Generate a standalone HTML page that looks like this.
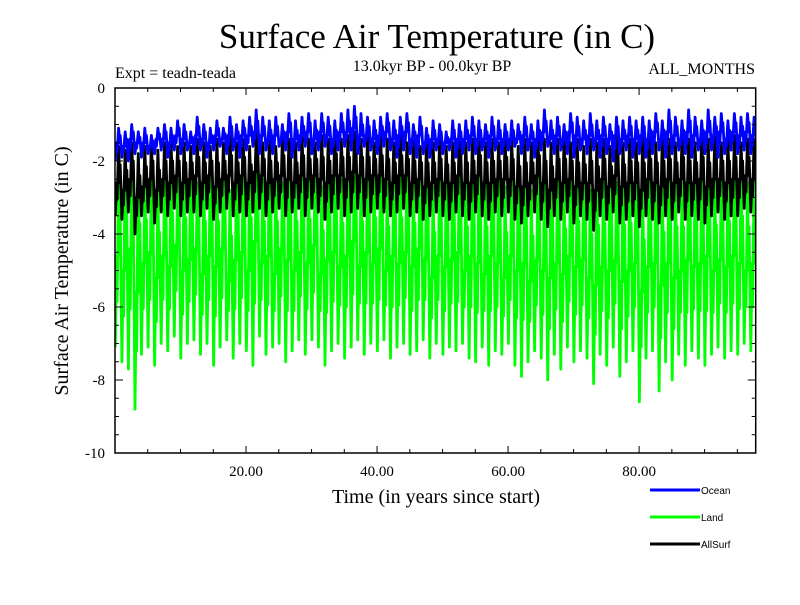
<!DOCTYPE html>
<html><head><meta charset="utf-8"><style>
body{margin:0;background:#fff;width:800px;height:600px;overflow:hidden}
svg text{font-family:"Liberation Serif",serif;fill:#000}
</style></head><body>
<svg id="chart" width="800" height="600" xmlns="http://www.w3.org/2000/svg">
<text x="437" y="48" font-size="35" text-anchor="middle">Surface Air Temperature (in C)</text>
<text x="115" y="78" font-size="16">Expt = teadn-teada</text>
<text x="432" y="71" font-size="16" text-anchor="middle">13.0kyr BP - 00.0kyr BP</text>
<text x="755" y="74" font-size="16" text-anchor="end">ALL_MONTHS</text>
<text transform="translate(68,271) rotate(-90)" font-size="20" text-anchor="middle">Surface Air Temperature (in C)</text>
<text x="436" y="503" font-size="20" text-anchor="middle">Time (in years since start)</text>
<g id="marks"></g>
<g id="axes"></g>
<g>
<line x1="650" y1="490" x2="700" y2="490" stroke="#0000ff" stroke-width="3"/>
<text x="701" y="494" font-size="10" style="font-family:'Liberation Sans',sans-serif">Ocean</text>
<line x1="650" y1="517" x2="700" y2="517" stroke="#00ff00" stroke-width="3"/>
<text x="701" y="521" font-size="10" style="font-family:'Liberation Sans',sans-serif">Land</text>
<line x1="650" y1="544" x2="700" y2="544" stroke="#000" stroke-width="3"/>
<text x="701" y="548" font-size="10" style="font-family:'Liberation Sans',sans-serif">AllSurf</text>
</g>
</svg>
<script>
const xTicks=[20,40,60,80];
const xTickLabels=["20.00","40.00","60.00","80.00"];
const yTicks=[0,-2,-4,-6,-8,-10];
const yTickLabels=["0","-2","-4","-6","-8","-10"];
const landMax=[-2.2,-1.9,-2.5,-1.8,-2.4,-2.0,-2.7,-2.3,-1.9,-2.5,-2.1,-1.8,-2.6,-2.2,-1.7,-2.4,-2.0,-2.8,-1.9,-2.3,-2.1,-1.4,-2.5,-1.8,-2.2,-2.6,-1.7,-2.3,-2.0,-2.4,-1.8,-2.7,-2.1,-1.9,-2.5,-2.2,-1.6,-2.4,-2.0,-2.3,-1.8,-2.6,-2.1,-2.3,-1.9,-2.5,-1.8,-2.2,-2.7,-2.0,-2.4,-2.2,-1.9,-2.6,-2.1,-2.3,-2.5,-1.9,-2.2,-2.7,-2.0,-2.4,-2.1,-2.8,-2.2,-2.5,-1.9,-2.3,-2.6,-2.0,-2.4,-2.2,-2.8,-2.1,-2.5,-1.9,-2.6,-2.2,-2.4,-2.0,-2.7,-2.3,-2.1,-2.5,-1.9,-2.4,-2.6,-2.0,-2.3,-2.2,-1.8,-2.5,-2.1,-2.4,-1.9,-2.2,-2.6,-2.3];
const landMid=[-4.6,-5.0,-4.4,-5.6,-4.8,-4.5,-5.2,-4.6,-4.9,-4.3,-5.0,-4.7,-4.4,-5.1,-4.6,-4.9,-4.4,-5.3,-4.7,-4.5,-5.0,-4.2,-4.8,-4.6,-5.1,-4.4,-4.7,-5.0,-4.5,-4.8,-4.3,-5.1,-4.7,-4.5,-4.9,-4.6,-4.2,-4.9,-4.5,-4.8,-4.4,-5.0,-4.6,-4.8,-4.5,-4.9,-4.4,-4.7,-5.2,-4.6,-4.9,-4.7,-4.5,-5.0,-4.6,-4.8,-5.1,-4.6,-4.8,-5.2,-4.6,-5.0,-4.8,-5.3,-4.7,-5.0,-5.2,-4.8,-5.1,-4.6,-4.9,-4.7,-5.2,-5.4,-4.9,-5.0,-4.7,-5.3,-5.0,-4.8,-5.6,-4.9,-4.8,-5.4,-4.8,-5.2,-5.0,-4.7,-4.9,-4.8,-4.6,-5.0,-4.7,-4.9,-4.6,-4.8,-5.0,-4.8];
const landMin=[-7.1,-7.5,-7.7,-8.8,-7.3,-7.1,-7.6,-7.0,-7.2,-6.8,-7.4,-7.0,-6.9,-7.3,-7.0,-7.6,-7.1,-6.9,-7.4,-7.0,-7.2,-7.6,-6.8,-7.3,-7.1,-7.0,-7.5,-7.2,-6.9,-7.3,-6.9,-7.1,-7.6,-7.2,-7.0,-7.4,-7.1,-6.9,-7.3,-7.0,-7.2,-6.9,-7.4,-7.1,-7.0,-7.3,-7.2,-6.9,-7.4,-7.0,-7.3,-7.1,-7.2,-7.0,-7.4,-7.5,-7.1,-7.6,-7.2,-7.3,-7.0,-7.6,-7.9,-7.5,-7.2,-7.4,-8.0,-7.3,-7.7,-7.1,-7.5,-7.2,-7.4,-8.1,-7.3,-7.6,-7.1,-7.9,-7.5,-7.2,-8.6,-7.4,-7.2,-8.3,-7.5,-8.0,-7.3,-7.6,-7.2,-7.4,-7.6,-7.3,-7.1,-7.4,-7.2,-7.3,-7.0,-7.2];
const oceanMax=[-1.1,-1.2,-1.0,-1.2,-1.1,-1.3,-1.1,-1.0,-1.1,-0.9,-1.0,-1.2,-0.8,-1.0,-1.1,-0.9,-1.1,-0.8,-1.0,-0.9,-0.8,-0.6,-0.8,-0.9,-0.8,-1.0,-0.7,-0.9,-0.8,-0.7,-0.9,-0.7,-0.8,-0.9,-0.7,-0.6,-0.5,-0.7,-0.8,-0.9,-0.8,-0.7,-0.9,-0.8,-0.7,-1.0,-0.8,-1.1,-0.9,-1.0,-1.2,-0.9,-1.0,-0.9,-0.8,-0.9,-1.0,-0.8,-0.9,-1.0,-0.9,-1.0,-0.8,-1.0,-0.9,-0.6,-0.9,-0.8,-1.0,-0.7,-0.8,-0.9,-0.7,-0.9,-0.8,-1.0,-0.8,-0.9,-0.8,-0.9,-0.8,-0.9,-0.7,-0.9,-0.6,-0.8,-0.9,-0.6,-0.8,-0.9,-0.6,-0.8,-0.7,-0.9,-0.7,-0.8,-0.7,-0.8];
const oceanMid=[-1.5,-1.6,-1.4,-1.5,-1.5,-1.6,-1.4,-1.4,-1.5,-1.3,-1.4,-1.5,-1.3,-1.4,-1.5,-1.3,-1.4,-1.3,-1.4,-1.3,-1.3,-1.2,-1.3,-1.4,-1.3,-1.4,-1.2,-1.4,-1.3,-1.2,-1.4,-1.2,-1.3,-1.4,-1.2,-1.2,-1.1,-1.3,-1.3,-1.4,-1.3,-1.2,-1.4,-1.3,-1.2,-1.4,-1.3,-1.5,-1.4,-1.4,-1.5,-1.4,-1.4,-1.4,-1.3,-1.4,-1.4,-1.3,-1.4,-1.4,-1.4,-1.4,-1.3,-1.4,-1.4,-1.2,-1.4,-1.3,-1.4,-1.2,-1.3,-1.4,-1.3,-1.4,-1.3,-1.4,-1.3,-1.4,-1.3,-1.4,-1.3,-1.4,-1.2,-1.4,-1.2,-1.3,-1.4,-1.2,-1.3,-1.4,-1.2,-1.3,-1.2,-1.4,-1.2,-1.3,-1.2,-1.3];
const oceanMin=[-2.0,-1.9,-2.0,-1.8,-1.9,-1.8,-1.8,-1.7,-1.9,-1.7,-1.8,-1.7,-1.8,-1.7,-1.9,-1.7,-1.6,-1.8,-1.7,-1.9,-1.7,-1.6,-1.8,-1.7,-1.8,-1.6,-1.7,-1.9,-1.7,-1.6,-1.8,-1.7,-1.6,-1.8,-1.7,-1.6,-1.7,-1.8,-1.6,-1.7,-1.8,-1.6,-1.7,-1.9,-1.7,-1.8,-1.9,-1.8,-1.9,-1.7,-1.8,-1.7,-1.9,-1.8,-1.7,-1.8,-1.7,-1.9,-1.7,-1.8,-1.7,-1.6,-1.8,-1.7,-1.9,-1.7,-1.6,-1.8,-1.7,-1.8,-1.9,-1.7,-1.8,-1.7,-1.9,-1.8,-2.0,-1.8,-1.7,-1.9,-1.8,-1.9,-1.8,-1.7,-1.9,-1.8,-1.7,-1.8,-1.9,-1.7,-1.8,-1.7,-1.9,-1.8,-1.7,-1.8,-1.7,-1.8];
const allMax=[-1.6,-1.7,-1.5,-1.8,-1.6,-1.5,-1.7,-1.5,-1.4,-1.6,-1.5,-1.6,-1.4,-1.5,-1.6,-1.4,-1.5,-1.3,-1.5,-1.4,-1.6,-1.2,-1.5,-1.4,-1.6,-1.3,-1.4,-1.5,-1.3,-1.4,-1.5,-1.3,-1.4,-1.2,-1.4,-1.3,-1.2,-1.4,-1.3,-1.5,-1.3,-1.4,-1.5,-1.3,-1.5,-1.4,-1.6,-1.4,-1.5,-1.4,-1.6,-1.5,-1.3,-1.5,-1.4,-1.3,-1.5,-1.4,-1.5,-1.3,-1.4,-1.6,-1.4,-1.5,-1.3,-1.4,-1.5,-1.4,-1.3,-1.5,-1.4,-1.6,-1.4,-1.5,-1.4,-1.6,-1.3,-1.5,-1.4,-1.5,-1.3,-1.4,-1.5,-1.3,-1.4,-1.5,-1.3,-1.4,-1.5,-1.3,-1.4,-1.3,-1.5,-1.4,-1.3,-1.5,-1.4,-1.4];
const allMid=[-2.6,-2.8,-2.5,-3.0,-2.7,-2.5,-2.8,-2.5,-2.6,-2.4,-2.6,-2.5,-2.4,-2.6,-2.4,-2.7,-2.5,-2.4,-2.6,-2.4,-2.6,-2.3,-2.4,-2.6,-2.5,-2.4,-2.5,-2.6,-2.4,-2.5,-2.4,-2.5,-2.6,-2.4,-2.4,-2.5,-2.3,-2.4,-2.5,-2.4,-2.4,-2.5,-2.6,-2.4,-2.4,-2.6,-2.5,-2.7,-2.6,-2.5,-2.6,-2.6,-2.4,-2.6,-2.6,-2.4,-2.6,-2.6,-2.5,-2.5,-2.5,-2.7,-2.7,-2.6,-2.4,-2.6,-2.8,-2.5,-2.6,-2.5,-2.7,-2.6,-2.6,-2.8,-2.5,-2.7,-2.4,-2.7,-2.6,-2.6,-2.8,-2.5,-2.6,-2.7,-2.5,-2.6,-2.5,-2.6,-2.6,-2.5,-2.7,-2.5,-2.5,-2.6,-2.5,-2.5,-2.4,-2.5];
const allMin=[-3.5,-3.6,-3.4,-4.0,-3.5,-3.4,-3.7,-3.4,-3.5,-3.3,-3.5,-3.4,-3.4,-3.5,-3.3,-3.6,-3.4,-3.3,-3.5,-3.4,-3.5,-3.4,-3.3,-3.5,-3.4,-3.3,-3.5,-3.4,-3.3,-3.5,-3.3,-3.4,-3.6,-3.4,-3.3,-3.5,-3.4,-3.3,-3.5,-3.4,-3.3,-3.4,-3.5,-3.4,-3.3,-3.5,-3.4,-3.6,-3.5,-3.4,-3.5,-3.6,-3.4,-3.5,-3.6,-3.4,-3.5,-3.6,-3.4,-3.5,-3.4,-3.6,-3.7,-3.5,-3.4,-3.6,-3.8,-3.5,-3.6,-3.4,-3.7,-3.5,-3.6,-3.9,-3.5,-3.6,-3.4,-3.7,-3.6,-3.5,-3.8,-3.5,-3.6,-3.7,-3.5,-3.6,-3.4,-3.6,-3.5,-3.6,-3.7,-3.5,-3.4,-3.6,-3.5,-3.5,-3.3,-3.4];
const X0=115,X1=755.7,Y0=88,Y1=453,TMAX=97.8;
const sx=t=>X0+t/TMAX*(X1-X0);
const sy=v=>Y0+(0-v)/10*(Y1-Y0);
const NS="http://www.w3.org/2000/svg";
const marks=document.getElementById('marks');
function series(maxArr,midArr,minArr,color,name){
  let d="";
  for(let i=0;i<maxArr.length;i++){
    const t=i;
    d+=(i===0?"M":"L")+sx(t+0.05).toFixed(1)+","+sy(minArr[i]).toFixed(1);
    d+="L"+sx(t+0.25).toFixed(1)+","+sy(midArr[i]).toFixed(1);
    d+="L"+sx(t+0.32).toFixed(1)+","+sy((midArr[i]+minArr[i])/2).toFixed(1);
    d+="L"+sx(t+0.55).toFixed(1)+","+sy(maxArr[i]).toFixed(1);
    d+="L"+sx(t+0.75).toFixed(1)+","+sy(midArr[i]).toFixed(1);
    d+="L"+sx(t+0.8).toFixed(1)+","+sy((maxArr[i]+midArr[i])/2).toFixed(1);
  }
  const p=document.createElementNS(NS,'path');
  p.setAttribute('d',d);p.setAttribute('fill','none');p.setAttribute('stroke',color);p.setAttribute('stroke-width','2.8');p.setAttribute('stroke-linejoin','round');
  
  
  marks.appendChild(p);
}
series(landMax,landMid,landMin,'#00ff00','land-series');
series(allMax,allMid,allMin,'#000000','allsurf-series');
series(oceanMax,oceanMid,oceanMin,'#0000ff','ocean-series');
const cp=document.createElementNS(NS,'clipPath');cp.id='clip';
const cr=document.createElementNS(NS,'rect');cr.setAttribute('x',X0);cr.setAttribute('y',Y0);cr.setAttribute('width',X1-X0);cr.setAttribute('height',Y1-Y0);
cp.appendChild(cr);document.getElementById('chart').appendChild(cp);marks.setAttribute('clip-path','url(#clip)');
const axes=document.getElementById('axes');
const frame=document.createElementNS(NS,'rect');
frame.setAttribute('x',X0);frame.setAttribute('y',Y0);frame.setAttribute('width',X1-X0);frame.setAttribute('height',Y1-Y0);
frame.setAttribute('fill','none');frame.setAttribute('stroke','#000');frame.setAttribute('stroke-width','1.5');


axes.appendChild(frame);
function ln(x1,y1,x2,y2,name){const l=document.createElementNS(NS,'line');l.setAttribute('x1',x1);l.setAttribute('y1',y1);l.setAttribute('x2',x2);l.setAttribute('y2',y2);l.setAttribute('stroke','#000');l.setAttribute('stroke-width','1');


axes.appendChild(l);}
for(let t=5;t<TMAX;t+=5){const len=(t%20===0)?7:4;ln(sx(t),Y1,sx(t),Y1-len,'x-tick');ln(sx(t),Y0,sx(t),Y0+len,'x-tick-top');}
for(let v=-0.5;v>-10;v-=0.5){const len=(Math.abs(v)%2===0)?8:4;ln(X0,sy(v),X0+len,sy(v),'y-tick');ln(X1,sy(v),X1-len,sy(v),'y-tick-right');}
xTicks.forEach((t,i)=>{const tx=document.createElementNS(NS,'text');tx.setAttribute('x',sx(t));tx.setAttribute('y',Y1+23);tx.setAttribute('font-size','15');tx.setAttribute('text-anchor','middle');tx.textContent=xTickLabels[i];


axes.appendChild(tx);});
yTicks.forEach((v,i)=>{const tx=document.createElementNS(NS,'text');tx.setAttribute('x',X0-10);tx.setAttribute('y',sy(v)+5);tx.setAttribute('font-size','15');tx.setAttribute('text-anchor','end');tx.textContent=yTickLabels[i];


axes.appendChild(tx);});
</script>
</body></html>
